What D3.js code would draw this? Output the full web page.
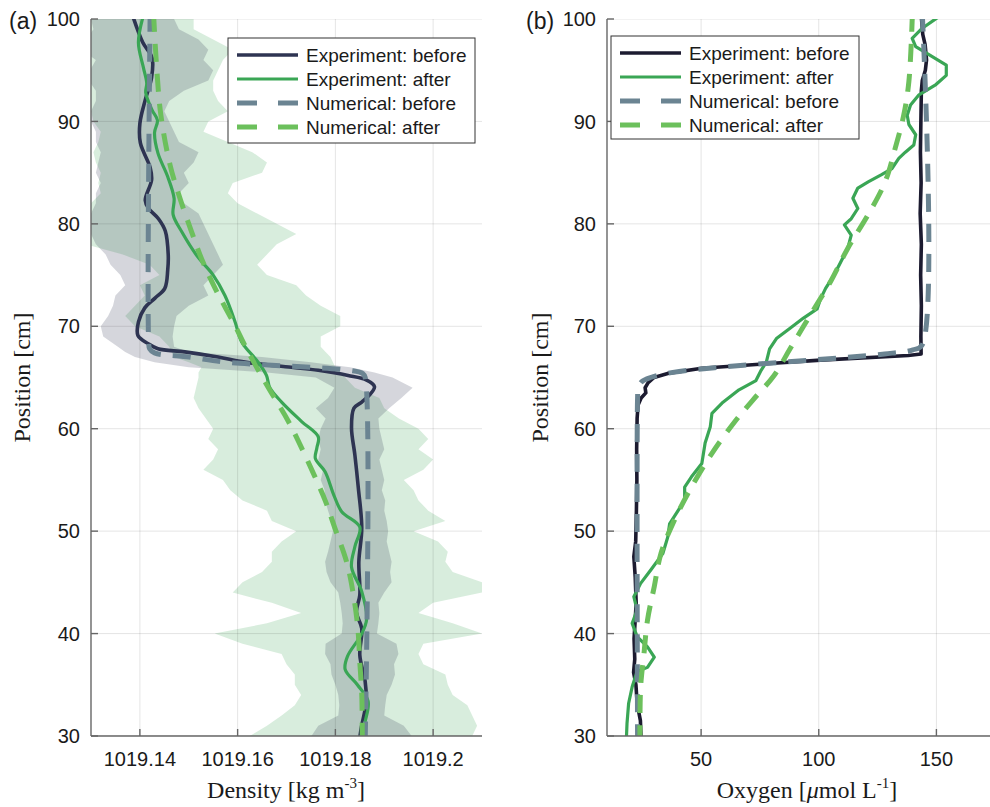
<!DOCTYPE html>
<html>
<head>
<meta charset="utf-8">
<script src="https://cdn.jsdelivr.net/npm/d3@7"></script>
<style>
body { margin: 0; background: #fff; }
svg { display: block; }
</style>
</head>
<body>
<svg id="chart" width="990" height="807"></svg>
<script>
// ---- panel (a): density ----
var bandPos = [100, 99, 98, 97, 96, 95, 94, 93, 92, 91, 90, 89, 88, 87, 86, 85, 84, 83, 82, 81,
    80, 79, 78, 77, 76, 75, 74, 73, 72, 71, 70, 69, 68, 67.5, 67, 66.5, 66, 65.5, 65,
    64, 63, 62, 61, 60, 59, 58, 57, 56, 55, 54, 53, 52, 51, 50, 49, 48, 47, 46, 45, 44,
    43, 42, 41, 40, 39, 38, 37, 36, 35, 34, 33, 32, 31, 30];

var afterHi = [1019.151, 1019.151, 1019.155, 1019.159, 1019.157, 1019.156, 1019.155, 1019.155, 1019.156, 1019.158,
    1019.154, 1019.153, 1019.158, 1019.163, 1019.166, 1019.165, 1019.159, 1019.158, 1019.160, 1019.164,
    1019.168, 1019.172, 1019.168, 1019.166, 1019.164, 1019.166, 1019.172, 1019.174, 1019.177, 1019.181,
    1019.181, 1019.177, 1019.177, 1019.178, 1019.179, 1019.1795, 1019.180, 1019.181, 1019.182,
    1019.184, 1019.189, 1019.190, 1019.193, 1019.197, 1019.199, 1019.197, 1019.200, 1019.198, 1019.194, 1019.196,
    1019.197, 1019.199, 1019.2025, 1019.196, 1019.201, 1019.203, 1019.2025, 1019.204, 1019.210, 1019.210,
    1019.200, 1019.197, 1019.204, 1019.210, 1019.198, 1019.197, 1019.198, 1019.2025, 1019.203, 1019.204,
    1019.207, 1019.208, 1019.209, 1019.208];

var afterLo = [1019.130, 1019.129, 1019.128, 1019.127, 1019.128, 1019.129, 1019.130, 1019.128, 1019.129, 1019.130,
    1019.1305, 1019.132, 1019.1315, 1019.1305, 1019.131, 1019.132, 1019.1315, 1019.132, 1019.130, 1019.129,
    1019.127, 1019.127, 1019.129, 1019.1365, 1019.142, 1019.144, 1019.140, 1019.141, 1019.139, 1019.137,
    1019.139, 1019.144, 1019.146, 1019.1465, 1019.147, 1019.150, 1019.1526, 1019.152, 1019.152,
    1019.1515, 1019.151, 1019.152, 1019.1535, 1019.155, 1019.154, 1019.156, 1019.155, 1019.153, 1019.157, 1019.1585,
    1019.161, 1019.166, 1019.167, 1019.172, 1019.169, 1019.167, 1019.167, 1019.165, 1019.161, 1019.159,
    1019.167, 1019.173, 1019.166, 1019.1553, 1019.161, 1019.169, 1019.170, 1019.1717, 1019.1717, 1019.173,
    1019.1717, 1019.169, 1019.166, 1019.1625];

var beforeHi = [1019.147, 1019.148, 1019.152, 1019.154, 1019.153, 1019.155, 1019.154, 1019.149, 1019.146, 1019.145,
    1019.146, 1019.147, 1019.148, 1019.152, 1019.151, 1019.149, 1019.150, 1019.148, 1019.149, 1019.152,
    1019.153, 1019.154, 1019.155, 1019.156, 1019.157, 1019.155, 1019.153, 1019.154, 1019.150, 1019.1475,
    1019.147, 1019.1467, 1019.147, 1019.150, 1019.165, 1019.175, 1019.183, 1019.188, 1019.1917,
    1019.1958, 1019.1935, 1019.191, 1019.1888, 1019.189, 1019.1895, 1019.190, 1019.189, 1019.1895, 1019.190, 1019.1895,
    1019.1902, 1019.1900, 1019.1905, 1019.1908, 1019.1905, 1019.1910, 1019.1915, 1019.1912, 1019.1915, 1019.1900,
    1019.1888, 1019.1890, 1019.1888, 1019.1885, 1019.1925, 1019.1929, 1019.1920, 1019.1922, 1019.1915, 1019.1905,
    1019.1902, 1019.1900, 1019.1940, 1019.1956];

var beforeLo = [1019.130, 1019.1305, 1019.129, 1019.128, 1019.131, 1019.1298, 1019.1295, 1019.131, 1019.131, 1019.130,
    1019.130, 1019.131, 1019.131, 1019.132, 1019.1315, 1019.131, 1019.132, 1019.131, 1019.131, 1019.130,
    1019.130, 1019.130, 1019.131, 1019.133, 1019.134, 1019.136, 1019.137, 1019.135, 1019.1345, 1019.1335,
    1019.132, 1019.1325, 1019.1355, 1019.137, 1019.139, 1019.143, 1019.150, 1019.166, 1019.176,
    1019.1798, 1019.1785, 1019.176, 1019.178, 1019.177, 1019.1765, 1019.177, 1019.1765, 1019.1775, 1019.1770, 1019.1778,
    1019.1779, 1019.1785, 1019.1792, 1019.1795, 1019.1790, 1019.1785, 1019.1779, 1019.1782, 1019.1790, 1019.1806,
    1019.1810, 1019.1813, 1019.1815, 1019.1813, 1019.1780, 1019.1779, 1019.1790, 1019.1792, 1019.1800, 1019.1806,
    1019.1808, 1019.1806, 1019.1765, 1019.1751];

// [position cm, density]
var expBeforeDens = [[100.5, 1019.1384], [97.7, 1019.1406], [96.2, 1019.1425], [94.3, 1019.1424], [92.1, 1019.1411],
    [89.8, 1019.1400], [87.9, 1019.1401], [85.5, 1019.1421], [84.3, 1019.1424], [82.3, 1019.1411], [81.5, 1019.1418],
    [80.5, 1019.1438], [79.3, 1019.1452], [77, 1019.1458], [75.5, 1019.1457], [73.7, 1019.1451], [72.75, 1019.1431],
    [71.8, 1019.1410], [70.4, 1019.1397], [69.1, 1019.1396], [68.3, 1019.1417], [67.8, 1019.1437], [67.5, 1019.1492],
    [67.0, 1019.1560], [66.5, 1019.1615], [66.0, 1019.1710], [65.7, 1019.1765], [65.2, 1019.1826], [64.75, 1019.1864],
    [64.1, 1019.1880], [63.3, 1019.1870], [62.6, 1019.1854], [62, 1019.1838], [60.1, 1019.1833], [57.4, 1019.1840],
    [54.2, 1019.1847], [50.3, 1019.1854], [47, 1019.1848], [43.75, 1019.1850], [42.1, 1019.1843], [40.5, 1019.1854],
    [37.9, 1019.1850], [35.3, 1019.1861], [33.3, 1019.1863], [30.8, 1019.1853], [29.5, 1019.1849]];

var expAfterDens = [[100.5, 1019.1408], [97.7, 1019.1397], [95.3, 1019.1407], [93.75, 1019.1414], [92.8, 1019.1412],
    [91.1, 1019.1425], [90.1, 1019.1436], [88.9, 1019.1430], [86.9, 1019.1437], [84.6, 1019.1457], [82.5, 1019.1470],
    [80.9, 1019.1468], [79.2, 1019.1486], [76.8, 1019.1518], [75, 1019.1550], [73, 1019.1574], [70.4, 1019.1595],
    [68.5, 1019.1608], [66.5, 1019.1642], [65.2, 1019.1659], [64, 1019.1666], [62.6, 1019.1690], [60.7, 1019.1731],
    [59.2, 1019.1765], [58.1, 1019.1762], [57.1, 1019.1759], [55.8, 1019.1779], [53.5, 1019.1797], [51.9, 1019.1813],
    [50.4, 1019.1850], [48.5, 1019.1840], [46.5, 1019.1833], [44.1, 1019.1854], [41.4, 1019.1864], [39.9, 1019.1853],
    [37.8, 1019.1825], [36.5, 1019.1820], [35.0, 1019.1845], [33.4, 1019.1867], [31.2, 1019.1860], [29.5, 1019.1854]];

var numBeforeDens = [[100.5, 1019.1421], [68.5, 1019.1418], [67.8, 1019.1420], [67.4, 1019.1430], [67.0, 1019.1500],
    [66.5, 1019.1574], [66.2, 1019.1670], [65.7, 1019.1830], [65.4, 1019.1856], [65.0, 1019.1861], [29.5, 1019.1861]];

var numAfterDens = [[100.5, 1019.1428], [95.5, 1019.1434], [90.6, 1019.1443], [85.7, 1019.1462], [82.5, 1019.1482],
    [79.2, 1019.1506], [76.5, 1019.1527], [73.7, 1019.1554], [70.4, 1019.1591], [67.2, 1019.1625], [64, 1019.1663],
    [60.7, 1019.1704], [57.4, 1019.1738], [53, 1019.1779], [50.3, 1019.1799], [47, 1019.1823], [43.75, 1019.1837],
    [40.5, 1019.1846], [37.2, 1019.1850], [34, 1019.1854], [29.5, 1019.1855]];

// ---- panel (b): oxygen ----
var expBeforeOx = [[100.5, 143.5], [98.5, 144.2], [97.5, 145.2], [96, 145.8], [95, 145.3], [94, 144], [93, 143.6],
    [90, 143.4], [87, 143.2], [84, 143.5], [81, 143.1], [78, 143.6], [75, 143.3], [72, 143.6], [69, 143.4],
    [67.3, 143.5], [67.15, 138], [66.7, 100.8], [66.3, 74.8], [65.9, 50.3], [65.4, 35.8], [65.0, 30.0],
    [64.5, 27.5], [64.0, 26.2], [63.5, 26.5], [63.0, 24.5], [62.3, 23.2], [61, 22.8], [58, 22.6], [55, 22.7],
    [52, 22.5], [49, 22.2], [47.5, 21.4], [45.5, 22.0], [43, 22.4], [41, 21.9], [39.5, 21.5], [37.5, 21.8],
    [36.2, 21.3], [35, 22.3], [33.2, 22.8], [31.5, 24.2], [29.5, 24.5]];

var expAfterOx = [[100.3, 151.5], [99.1, 144], [98.1, 139.7], [97.3, 141.2], [96.5, 147], [95.5, 154.2], [94.5, 154.2],
    [93.6, 149.8], [92.6, 142.6], [91.6, 139], [90.6, 137.6], [89.7, 138.3], [88.7, 141.2], [87.7, 140.4],
    [87.0, 136.8], [86.4, 134], [85.4, 131.1], [84.8, 126.7], [84.1, 121], [83.5, 116.6], [82.5, 114.5],
    [81.5, 116.6], [80.5, 113.8], [79.9, 110.9], [78.9, 113.8], [77.6, 112.3], [76.3, 109.4], [75, 106.5],
    [73.7, 102.9], [72.7, 100.8], [71.7, 99.3], [70.8, 93.5], [69.8, 87.8], [68.8, 82], [67.8, 79.1],
    [66.5, 77.7], [65.7, 75.5], [64.7, 73.3], [63.8, 66.1], [62.5, 58.9], [61.5, 54.6], [60.2, 53.9],
    [58.6, 51.7], [56.6, 50.3], [55.3, 45.9], [54.3, 43.0], [53.0, 43.0], [52.0, 40.2], [50.7, 36.6],
    [49.4, 35.8], [47.8, 33.7], [46.2, 28.6], [44.9, 24.3], [43.6, 21.4], [42.3, 22.8], [41.0, 20.7],
    [39.7, 22.8], [38.7, 27.2], [37.7, 30.1], [36.7, 27.2], [36.3, 22.8], [34.8, 20.7], [33.2, 19.2],
    [31.2, 18.5], [29.5, 18.2]];

var numBeforeOx = [[100.5, 144], [68.2, 144], [67.7, 140], [67.3, 128], [66.9, 108], [66.5, 85], [66.0, 58],
    [65.5, 38], [65.0, 28.5], [64.6, 24.8], [64.0, 23.3], [63, 23], [29.5, 23]];

var numAfterOx = [[100.5, 139.8], [93.9, 138.3], [90.6, 136.1], [87.4, 132.5], [84.1, 128.2], [80.9, 121],
    [77.6, 112.3], [74.4, 105.1], [71.1, 96.4], [67.8, 87.8], [65.2, 81], [62.8, 72], [60.8, 64.7],
    [57.6, 54.6], [54.3, 45.9], [51.1, 38.7], [47.8, 32.9], [44.6, 30.1], [41.3, 27.2], [38.0, 25.7],
    [34.8, 24.3], [29.5, 24]];

var seriesNames = ["Experiment: before", "Experiment: after", "Numerical: before", "Numerical: after"];
var posTicks = [30, 40, 50, 60, 70, 80, 90, 100];
var densTicks = [1019.14, 1019.16, 1019.18, 1019.2];
var oxTicks = [50, 100, 150];

var svg = d3.select("#chart");
var plotTop = 19, plotBottom = 736;

var y = d3.scaleLinear().domain([30, 100]).range([plotBottom, plotTop]);

function drawPanel(p) {
    var x = d3.scaleLinear().domain(p.domain).range([p.left, p.right]);
    var g = svg.append("g");

    g.append("clipPath").attr("id", p.id + "-clip")
        .append("rect")
        .attr("x", p.left).attr("y", plotTop)
        .attr("width", p.right - p.left).attr("height", plotBottom - plotTop);

    var plot = g.append("g").attr("clip-path", "url(#" + p.id + "-clip)");

    // shaded bands
    if (p.bands) {
        p.bands.forEach(function (b) {
            var area = d3.area()
                .y(function (d, i) { return y(bandPos[i]); })
                .x0(function (d, i) { return x(b.lo[i]); })
                .x1(function (d, i) { return x(b.hi[i]); });
            plot.append("path")
                .datum(bandPos)
                .attr("d", area)
                .attr("fill", b.color)
                .attr("fill-opacity", 0.2)
                .attr("stroke", "none");
        });
    }

    // grid
    plot.selectAll(".vg").data(p.ticks).enter().append("line")
        .attr("x1", function (d) { return x(d); }).attr("x2", function (d) { return x(d); })
        .attr("y1", plotTop).attr("y2", plotBottom)
        .attr("stroke", "#262626").attr("stroke-opacity", 0.12).attr("stroke-width", 1);
    plot.selectAll(".hg").data(posTicks).enter().append("line")
        .attr("x1", p.left).attr("x2", p.right)
        .attr("y1", function (d) { return y(d); }).attr("y2", function (d) { return y(d); })
        .attr("stroke", "#262626").attr("stroke-opacity", 0.12).attr("stroke-width", 1);

    // lines
    p.lines.forEach(function (s) {
        var line = d3.line()
            .x(function (d) { return x(d[1]); })
            .y(function (d) { return y(d[0]); })
            .curve(s.curve || d3.curveLinear);
        plot.append("path")
            .datum(s.data)
            .attr("d", line)
            .attr("fill", "none")
            .attr("stroke", s.color)
            .attr("stroke-width", s.width)
            .attr("stroke-dasharray", s.dash || null)
            .attr("stroke-linejoin", "round");
    });

    // axes
    g.append("line").attr("x1", p.left).attr("x2", p.left).attr("y1", plotTop).attr("y2", plotBottom)
        .attr("stroke", "#666").attr("stroke-width", 1.4);
    g.append("line").attr("x1", p.left).attr("x2", p.right).attr("y1", plotBottom).attr("y2", plotBottom)
        .attr("stroke", "#666").attr("stroke-width", 1.4);

    g.selectAll(".yt").data(posTicks).enter().append("line")
        .attr("x1", p.left).attr("x2", p.left + 7)
        .attr("y1", function (d) { return y(d); }).attr("y2", function (d) { return y(d); })
        .attr("stroke", "#666").attr("stroke-width", 1.4);
    g.selectAll(".xt").data(p.ticks).enter().append("line")
        .attr("x1", function (d) { return x(d); }).attr("x2", function (d) { return x(d); })
        .attr("y1", plotBottom).attr("y2", plotBottom - 7)
        .attr("stroke", "#666").attr("stroke-width", 1.4);

    g.selectAll(".yl").data(posTicks).enter().append("text")
        .attr("x", p.left - 11)
        .attr("y", function (d) { return y(d); })
        .attr("dy", "0.36em")
        .attr("text-anchor", "end")
        .style("font-family", "'Liberation Sans', Arial, sans-serif")
        .style("font-size", "20px")
        .attr("fill", "#1a1a1a")
        .text(function (d) { return d; });
    g.selectAll(".xl").data(p.ticks).enter().append("text")
        .attr("x", function (d) { return x(d); })
        .attr("y", plotBottom + 30)
        .attr("text-anchor", "middle")
        .style("font-family", "'Liberation Sans', Arial, sans-serif")
        .style("font-size", "20px")
        .attr("fill", "#1a1a1a")
        .text(function (d) { return String(+d.toFixed(2)); });

    // panel letter
    g.append("text")
        .attr("x", p.letterX).attr("y", 29)
        .style("font-family", "'Liberation Sans', Arial, sans-serif")
        .style("font-size", "23px")
        .attr("fill", "#1a1a1a")
        .text(p.letter);

    // axis labels
    var serif = "'Liberation Serif', 'Times New Roman', serif";
    g.append("text")
        .attr("transform", "translate(" + p.ylabX + "," + ((plotTop + plotBottom) / 2) + ") rotate(-90)")
        .attr("text-anchor", "middle")
        .style("font-family", serif)
        .style("font-size", "24px")
        .attr("fill", "#1a1a1a")
        .text("Position [cm]");

    var xl = g.append("text")
        .attr("x", p.xlabX).attr("y", 798)
        .attr("text-anchor", "middle")
        .style("font-family", serif)
        .style("font-size", "24px")
        .attr("fill", "#1a1a1a");
    p.xlabel.forEach(function (part) {
        var t = xl.append("tspan").text(part.t);
        if (part.it) t.style("font-style", "italic");
        if (part.sup) t.attr("dy", -10).style("font-size", "15px");
        if (part.after) t.attr("dy", 10);
    });

    // legend
    var lg = g.append("g").attr("transform", "translate(" + p.legend.x + "," + p.legend.y + ")");
    lg.append("rect")
        .attr("width", p.legend.w).attr("height", p.legend.h)
        .attr("fill", "#fff").attr("stroke", "#333").attr("stroke-width", 1);
    p.lines.forEach(function (s, i) {
        var ry = p.legend.row0 + i * 24;
        lg.append("line")
            .attr("x1", 9).attr("x2", 70)
            .attr("y1", ry).attr("y2", ry)
            .attr("stroke", s.color)
            .attr("stroke-width", s.width)
            .attr("stroke-dasharray", s.dash ? "20,21" : null);
        lg.append("text")
            .attr("x", 78).attr("y", ry).attr("dy", "0.35em")
            .style("font-family", "'Liberation Sans', Arial, sans-serif")
            .style("font-size", "19px")
            .attr("fill", "#1a1a1a")
            .text(seriesNames[i]);
    });
}

drawPanel({
    id: "dens",
    left: 91, right: 482,
    domain: [1019.13, 1019.21],
    ticks: densTicks,
    letter: "(a)", letterX: 9,
    ylabX: 30, xlabX: 286,
    xlabel: [{ t: "Density [kg m" }, { t: "-3", sup: true }, { t: "]", after: true }],
    bands: [
        { lo: afterLo, hi: afterHi, color: "#3aa655" },
        { lo: beforeLo, hi: beforeHi, color: "#2d3352" }
    ],
    lines: [
        { data: expBeforeDens, color: "#2e3452", width: 3.6, curve: d3.curveCatmullRom },
        { data: expAfterDens, color: "#3aa655", width: 3.2, curve: d3.curveCatmullRom },
        { data: numBeforeDens, color: "#6b8492", width: 5, dash: "18,12", curve: d3.curveCatmullRom },
        { data: numAfterDens, color: "#6cc05c", width: 5, dash: "18,12", curve: d3.curveCatmullRom }
    ],
    legend: { x: 228, y: 38, w: 247, h: 105, row0: 17 }
});

drawPanel({
    id: "ox",
    left: 607, right: 1007,
    domain: [10, 180],
    ticks: oxTicks,
    letter: "(b)", letterX: 526,
    ylabX: 548, xlabX: 807,
    xlabel: [{ t: "Oxygen [" }, { t: "\u03bc", it: true }, { t: "mol L" }, { t: "-1", sup: true }, { t: "]", after: true }],
    lines: [
        { data: expBeforeOx, color: "#1c1b30", width: 3.6 },
        { data: expAfterOx, color: "#3aa655", width: 3.2 },
        { data: numBeforeOx, color: "#6b8492", width: 5, dash: "18,12", curve: d3.curveCatmullRom },
        { data: numAfterOx, color: "#6cc05c", width: 5, dash: "18,12", curve: d3.curveCatmullRom }
    ],
    legend: { x: 611, y: 36, w: 248, h: 103, row0: 17 }
});
</script>
</body>
</html>
